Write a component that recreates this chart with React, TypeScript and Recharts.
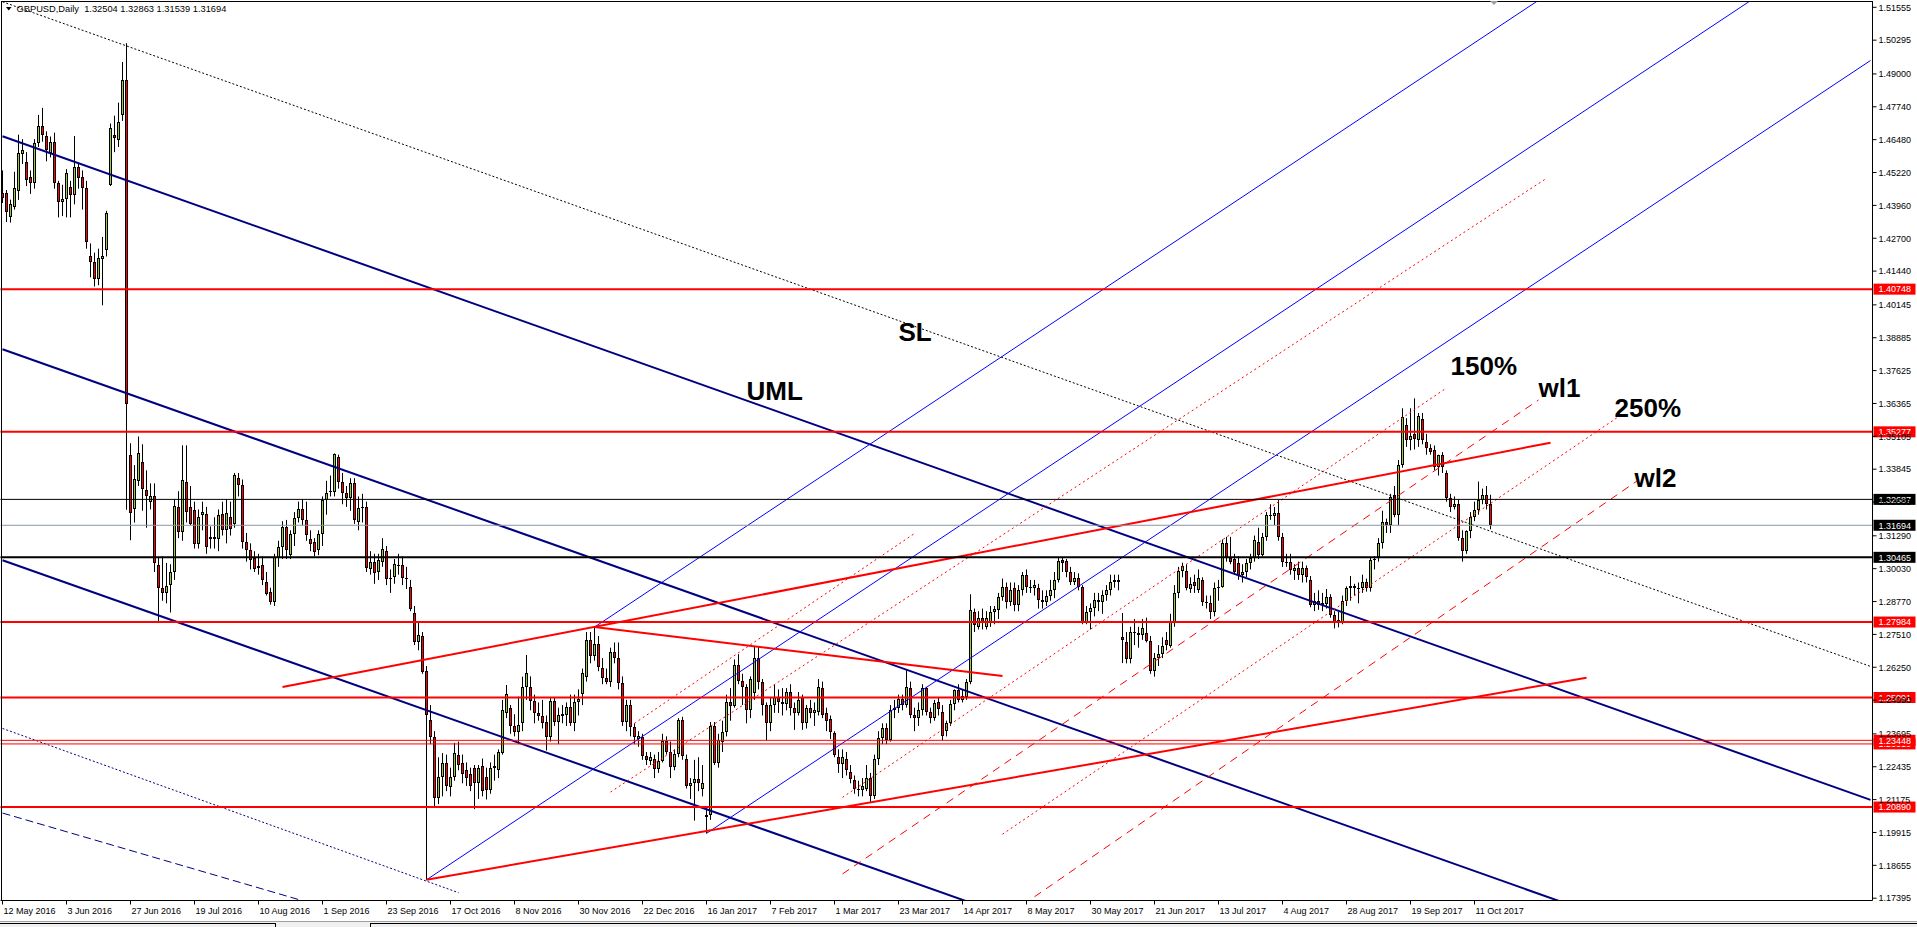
import React from "react";
import { ComposedChart, Bar, XAxis, YAxis, ReferenceLine } from "recharts";

// open, high, low, close
type Candle = [number, number, number, number];
type Seg = [[number, number], [number, number]];

const may2016: Candle[] = [
  [1.4445, 1.453, 1.4405, 1.4425], [1.4443, 1.4455, 1.4332, 1.437], [1.4352, 1.4418, 1.433, 1.4402],
  [1.439, 1.4525, 1.438, 1.4462], [1.4452, 1.4667, 1.4417, 1.4596], [1.4593, 1.465, 1.4555, 1.4608],
  [1.4563, 1.46, 1.447, 1.4493], [1.4505, 1.453, 1.444, 1.4482], [1.4481, 1.465, 1.446, 1.4634],
  [1.4634, 1.4743, 1.462, 1.47], [1.47, 1.477, 1.464, 1.4666], [1.4662, 1.468, 1.4565, 1.4608],
  [1.4596, 1.466, 1.458, 1.4639], [1.4639, 1.4675, 1.446, 1.4481],
];
const jun2016: Candle[] = [
  [1.4481, 1.449, 1.435, 1.4409], [1.4408, 1.4475, 1.4355, 1.442], [1.442, 1.4535, 1.435, 1.452],
  [1.4468, 1.449, 1.435, 1.4437], [1.4437, 1.4662, 1.44, 1.4543], [1.4543, 1.456, 1.446, 1.4501],
  [1.4506, 1.453, 1.438, 1.4463], [1.4464, 1.449, 1.423, 1.4257], [1.42, 1.425, 1.412, 1.418],
  [1.418, 1.4215, 1.4085, 1.4115], [1.4115, 1.423, 1.409, 1.4195], [1.419, 1.4275, 1.4013, 1.42],
  [1.4224, 1.4375, 1.42, 1.4365], [1.4475, 1.471, 1.447, 1.4693], [1.4665, 1.474, 1.46, 1.4655],
  [1.4647, 1.479, 1.462, 1.4716], [1.4744, 1.4946, 1.472, 1.4877], [1.4877, 1.5018, 1.3229, 1.3635],
  [1.3439, 1.3484, 1.3112, 1.3218], [1.3232, 1.34, 1.318, 1.3347], [1.334, 1.351, 1.332, 1.3446],
  [1.3412, 1.348, 1.3225, 1.331],
];
const jul2016: Candle[] = [
  [1.3304, 1.338, 1.316, 1.3282], [1.326, 1.333, 1.323, 1.3282], [1.328, 1.333, 1.299, 1.3024],
  [1.3016, 1.3045, 1.28, 1.2928], [1.2928, 1.305, 1.288, 1.2909], [1.2909, 1.3025, 1.287, 1.2935],
  [1.294, 1.302, 1.2835, 1.299], [1.2991, 1.327, 1.296, 1.3245], [1.3239, 1.33, 1.312, 1.3143],
  [1.3144, 1.3476, 1.311, 1.3343], [1.3336, 1.3476, 1.318, 1.3221], [1.324, 1.332, 1.317, 1.3176],
  [1.3227, 1.326, 1.308, 1.3098], [1.3098, 1.323, 1.308, 1.3201], [1.321, 1.326, 1.315, 1.322],
  [1.3214, 1.324, 1.306, 1.3085], [1.3115, 1.3165, 1.308, 1.3125], [1.3125, 1.32, 1.308, 1.3118],
  [1.3118, 1.323, 1.307, 1.3208], [1.3214, 1.326, 1.313, 1.315], [1.315, 1.327, 1.31, 1.3217],
];
const aug2016: Candle[] = [
  [1.3201, 1.326, 1.313, 1.3157], [1.3176, 1.337, 1.316, 1.3362], [1.3349, 1.337, 1.328, 1.3324],
  [1.3324, 1.3345, 1.308, 1.3107], [1.3107, 1.314, 1.303, 1.3075], [1.3075, 1.31, 1.3, 1.3036],
  [1.3043, 1.307, 1.299, 1.3], [1.3005, 1.306, 1.298, 1.3012], [1.3016, 1.305, 1.294, 1.2959],
  [1.2952, 1.299, 1.29, 1.2907], [1.2913, 1.293, 1.2865, 1.2875], [1.2875, 1.306, 1.286, 1.3049],
  [1.3043, 1.311, 1.301, 1.3088], [1.3088, 1.3185, 1.304, 1.3164], [1.3162, 1.319, 1.304, 1.3075],
  [1.3056, 1.315, 1.304, 1.3136], [1.3136, 1.322, 1.309, 1.3196], [1.3196, 1.326, 1.318, 1.323],
  [1.323, 1.327, 1.317, 1.3189], [1.3189, 1.326, 1.311, 1.3131], [1.3118, 1.315, 1.307, 1.3098],
  [1.3105, 1.312, 1.305, 1.3067], [1.3075, 1.315, 1.3055, 1.3136],
];
const sep2016: Candle[] = [
  [1.3136, 1.328, 1.309, 1.3265], [1.3265, 1.334, 1.321, 1.3294], [1.3296, 1.336, 1.328, 1.33],
  [1.3298, 1.3445, 1.328, 1.3443], [1.3433, 1.344, 1.331, 1.3337], [1.3337, 1.337, 1.325, 1.3292],
  [1.3292, 1.332, 1.324, 1.3273], [1.3273, 1.335, 1.3225, 1.3333], [1.3333, 1.335, 1.3175, 1.3189],
  [1.3182, 1.328, 1.315, 1.3234], [1.3234, 1.329, 1.318, 1.324], [1.324, 1.326, 1.299, 1.3005],
  [1.3, 1.307, 1.298, 1.303], [1.303, 1.306, 1.2945, 1.2985], [1.2991, 1.306, 1.296, 1.3036],
  [1.303, 1.312, 1.301, 1.3078], [1.3072, 1.309, 1.294, 1.2962], [1.2962, 1.3, 1.291, 1.2968],
  [1.2972, 1.304, 1.2945, 1.302], [1.3012, 1.306, 1.298, 1.3017], [1.3017, 1.305, 1.294, 1.2967],
  [1.2967, 1.301, 1.2925, 1.2965],
];
const oct2016: Candle[] = [
  [1.2932, 1.296, 1.284, 1.2847], [1.2834, 1.286, 1.271, 1.2723], [1.2723, 1.28, 1.269, 1.2749],
  [1.2745, 1.276, 1.26, 1.2607], [1.261, 1.263, 1.181, 1.2442], [1.2423, 1.248, 1.233, 1.2358],
  [1.2358, 1.238, 1.2089, 1.2123], [1.2123, 1.228, 1.21, 1.2205], [1.2205, 1.2296, 1.213, 1.2256],
  [1.2256, 1.229, 1.215, 1.217], [1.2166, 1.224, 1.213, 1.2204], [1.2204, 1.2335, 1.219, 1.2296],
  [1.229, 1.234, 1.223, 1.225], [1.2256, 1.229, 1.218, 1.2217], [1.223, 1.226, 1.217, 1.22],
  [1.2215, 1.224, 1.215, 1.217], [1.2237, 1.225, 1.2081, 1.218], [1.218, 1.225, 1.212, 1.2237],
  [1.2245, 1.2275, 1.213, 1.215], [1.2205, 1.224, 1.2118, 1.2154], [1.2154, 1.226, 1.214, 1.2237],
];
const nov2016: Candle[] = [
  [1.2237, 1.229, 1.219, 1.2245], [1.2231, 1.231, 1.22, 1.2301], [1.2296, 1.25, 1.229, 1.2462],
  [1.245, 1.2557, 1.243, 1.2521], [1.247, 1.248, 1.237, 1.24], [1.24, 1.2445, 1.236, 1.2375],
  [1.2375, 1.2512, 1.233, 1.2405], [1.241, 1.2589, 1.238, 1.2551], [1.2551, 1.2672, 1.25, 1.2604],
  [1.2551, 1.259, 1.246, 1.2494], [1.2494, 1.252, 1.241, 1.245], [1.245, 1.249, 1.242, 1.244],
  [1.244, 1.25, 1.239, 1.241], [1.2415, 1.244, 1.2306, 1.2357], [1.2357, 1.251, 1.234, 1.2494],
  [1.2494, 1.251, 1.24, 1.2415], [1.2416, 1.247, 1.233, 1.2442], [1.244, 1.248, 1.241, 1.2447],
  [1.2442, 1.249, 1.24, 1.2474], [1.2474, 1.252, 1.24, 1.241], [1.241, 1.252, 1.238, 1.2493],
  [1.2493, 1.254, 1.244, 1.2505],
];
const dec2016: Candle[] = [
  [1.2523, 1.262, 1.248, 1.2602], [1.2589, 1.276, 1.257, 1.273], [1.273, 1.276, 1.264, 1.267],
  [1.267, 1.2779, 1.265, 1.2715], [1.2715, 1.2745, 1.261, 1.2627], [1.2621, 1.266, 1.256, 1.2583],
  [1.2583, 1.262, 1.256, 1.257], [1.257, 1.27, 1.255, 1.2685], [1.2685, 1.272, 1.264, 1.266],
  [1.266, 1.272, 1.254, 1.2563], [1.2563, 1.259, 1.24, 1.2416], [1.2416, 1.25, 1.238, 1.248],
  [1.248, 1.25, 1.236, 1.2395], [1.2395, 1.241, 1.233, 1.2357], [1.235, 1.238, 1.232, 1.236],
  [1.2357, 1.237, 1.227, 1.2286], [1.2286, 1.23, 1.225, 1.227], [1.2265, 1.23, 1.225, 1.228],
  [1.2273, 1.229, 1.22, 1.2235], [1.2235, 1.23, 1.222, 1.2267], [1.2267, 1.237, 1.226, 1.2344],
];
const jan2017: Candle[] = [
  [1.2344, 1.236, 1.229, 1.23], [1.23, 1.234, 1.22, 1.2241], [1.2241, 1.231, 1.223, 1.2292],
  [1.2292, 1.243, 1.228, 1.2421], [1.2421, 1.2435, 1.227, 1.2286], [1.2273, 1.229, 1.216, 1.217],
  [1.217, 1.22, 1.212, 1.218], [1.218, 1.227, 1.2037, 1.2195], [1.2195, 1.228, 1.215, 1.218],
  [1.216, 1.225, 1.213, 1.218], [1.205, 1.209, 1.1988, 1.206], [1.206, 1.2415, 1.204, 1.24],
  [1.24, 1.2415, 1.225, 1.2257], [1.2257, 1.237, 1.224, 1.2346], [1.234, 1.242, 1.23, 1.2375],
  [1.2375, 1.252, 1.236, 1.249], [1.249, 1.2545, 1.242, 1.2475], [1.2475, 1.2655, 1.247, 1.2634],
  [1.2634, 1.2675, 1.256, 1.2573], [1.2573, 1.26, 1.248, 1.255], [1.255, 1.256, 1.241, 1.246],
  [1.246, 1.259, 1.243, 1.258],
];
const feb2017: Candle[] = [
  [1.2526, 1.2704, 1.25, 1.2661], [1.2661, 1.2706, 1.254, 1.257], [1.257, 1.258, 1.244, 1.248],
  [1.248, 1.249, 1.2345, 1.241], [1.241, 1.251, 1.238, 1.248], [1.248, 1.256, 1.245, 1.251],
  [1.251, 1.254, 1.245, 1.249], [1.249, 1.2545, 1.244, 1.2485], [1.2485, 1.2545, 1.246, 1.253],
  [1.253, 1.256, 1.244, 1.247], [1.247, 1.249, 1.2385, 1.245], [1.245, 1.253, 1.244, 1.25],
  [1.2512, 1.252, 1.2385, 1.241], [1.241, 1.248, 1.239, 1.247], [1.247, 1.25, 1.243, 1.245],
  [1.245, 1.249, 1.24, 1.246], [1.2455, 1.258, 1.244, 1.255], [1.2544, 1.257, 1.243, 1.2442],
  [1.245, 1.247, 1.238, 1.242], [1.2428, 1.244, 1.235, 1.2377],
];
const mar2017: Candle[] = [
  [1.2371, 1.238, 1.228, 1.2287], [1.228, 1.231, 1.222, 1.2255], [1.2255, 1.231, 1.22, 1.228],
  [1.2275, 1.23, 1.221, 1.223], [1.2223, 1.225, 1.218, 1.2198], [1.2191, 1.221, 1.214, 1.2159],
  [1.216, 1.219, 1.213, 1.2155], [1.2155, 1.22, 1.213, 1.217], [1.216, 1.225, 1.215, 1.22],
  [1.22, 1.222, 1.2109, 1.213], [1.213, 1.229, 1.212, 1.2275], [1.2275, 1.238, 1.225, 1.2352],
  [1.2352, 1.241, 1.233, 1.2391], [1.2391, 1.241, 1.233, 1.2346], [1.2346, 1.248, 1.234, 1.2461],
  [1.2461, 1.25, 1.243, 1.2467], [1.2467, 1.252, 1.245, 1.2505], [1.2505, 1.252, 1.246, 1.248],
  [1.248, 1.2615, 1.247, 1.255], [1.2544, 1.257, 1.243, 1.2442], [1.2442, 1.247, 1.238, 1.243],
  [1.243, 1.249, 1.24, 1.2461], [1.2461, 1.256, 1.244, 1.2544],
];
const apr2017: Candle[] = [
  [1.2544, 1.255, 1.244, 1.2455], [1.2455, 1.247, 1.241, 1.243], [1.243, 1.25, 1.242, 1.2488],
  [1.249, 1.251, 1.244, 1.2465], [1.2454, 1.248, 1.2345, 1.236], [1.238, 1.242, 1.236, 1.241],
  [1.241, 1.25, 1.24, 1.2486], [1.2486, 1.254, 1.246, 1.2537], [1.2537, 1.256, 1.249, 1.25],
  [1.25, 1.254, 1.249, 1.2515], [1.2512, 1.258, 1.25, 1.257], [1.257, 1.2905, 1.256, 1.2845],
  [1.2838, 1.285, 1.276, 1.2787], [1.2781, 1.284, 1.277, 1.2813], [1.2813, 1.285, 1.277, 1.28],
  [1.278, 1.284, 1.277, 1.2812], [1.28, 1.286, 1.278, 1.2838], [1.2838, 1.286, 1.279, 1.285],
  [1.2845, 1.291, 1.281, 1.2896], [1.2896, 1.2965, 1.288, 1.2934],
];
const may2017: Candle[] = [
  [1.2934, 1.295, 1.285, 1.2877], [1.2877, 1.295, 1.286, 1.292], [1.2928, 1.295, 1.284, 1.2864],
  [1.2864, 1.294, 1.284, 1.2922], [1.2922, 1.299, 1.29, 1.2979], [1.2979, 1.3, 1.291, 1.2934],
  [1.2934, 1.296, 1.291, 1.293], [1.293, 1.296, 1.29, 1.294], [1.2928, 1.2945, 1.285, 1.2883],
  [1.2883, 1.292, 1.285, 1.2877], [1.2877, 1.292, 1.286, 1.29], [1.29, 1.296, 1.288, 1.2922],
  [1.2922, 1.299, 1.289, 1.2961], [1.2961, 1.3047, 1.295, 1.3031], [1.3035, 1.3048, 1.299, 1.3025],
  [1.3031, 1.304, 1.297, 1.2992], [1.2992, 1.301, 1.294, 1.2953], [1.2953, 1.299, 1.294, 1.2966],
  [1.2966, 1.2985, 1.292, 1.2934], [1.2934, 1.294, 1.279, 1.28], [1.28, 1.286, 1.279, 1.2838],
  [1.2838, 1.287, 1.277, 1.2851], [1.2851, 1.291, 1.282, 1.2883],
];
const jun2017: Candle[] = [
  [1.2883, 1.291, 1.284, 1.2875], [1.2877, 1.292, 1.283, 1.2902], [1.2902, 1.294, 1.288, 1.292],
  [1.2922, 1.298, 1.29, 1.2953], [1.2953, 1.298, 1.293, 1.296], [1.296, 1.298, 1.292, 1.295],
  [1.2742, 1.2833, 1.2641, 1.273], [1.2722, 1.276, 1.264, 1.2655], [1.2655, 1.278, 1.264, 1.2762],
  [1.2762, 1.281, 1.271, 1.2755], [1.2755, 1.278, 1.27, 1.275], [1.275, 1.281, 1.273, 1.2775],
  [1.2757, 1.2815, 1.272, 1.2725], [1.2725, 1.2745, 1.26, 1.261], [1.261, 1.268, 1.2589, 1.2661],
  [1.2661, 1.271, 1.263, 1.2674], [1.2674, 1.274, 1.266, 1.2706], [1.273, 1.276, 1.269, 1.271],
  [1.2706, 1.283, 1.27, 1.2802], [1.2796, 1.294, 1.278, 1.2911], [1.2911, 1.301, 1.289, 1.2994],
  [1.2994, 1.3026, 1.297, 1.3013],
];
const jul2017: Candle[] = [
  [1.2994, 1.302, 1.292, 1.293], [1.2925, 1.297, 1.291, 1.2945], [1.295, 1.298, 1.291, 1.2935],
  [1.2922, 1.3, 1.291, 1.2966], [1.296, 1.297, 1.286, 1.2877], [1.2877, 1.29, 1.285, 1.287],
  [1.287, 1.29, 1.281, 1.2838], [1.2838, 1.295, 1.282, 1.2928], [1.2928, 1.296, 1.288, 1.2934],
  [1.2934, 1.3115, 1.293, 1.31], [1.31, 1.3125, 1.303, 1.3043], [1.3043, 1.3125, 1.302, 1.303],
  [1.304, 1.306, 1.298, 1.2992], [1.3023, 1.305, 1.296, 1.2978], [1.2978, 1.302, 1.295, 1.299],
  [1.299, 1.304, 1.297, 1.3023], [1.3023, 1.306, 1.3, 1.3043], [1.3043, 1.313, 1.303, 1.3114],
  [1.3107, 1.316, 1.304, 1.3056], [1.3056, 1.314, 1.305, 1.3126], [1.3126, 1.322, 1.311, 1.3209],
];
const aug2017: Candle[] = [
  [1.3209, 1.325, 1.319, 1.3205], [1.3205, 1.324, 1.317, 1.3215], [1.3215, 1.3266, 1.311, 1.3126],
  [1.3126, 1.314, 1.301, 1.303], [1.303, 1.306, 1.301, 1.3024], [1.303, 1.306, 1.298, 1.2998],
  [1.2995, 1.302, 1.296, 1.3005], [1.3005, 1.303, 1.296, 1.298], [1.298, 1.303, 1.295, 1.3005],
  [1.3005, 1.3015, 1.295, 1.2972], [1.2959, 1.2975, 1.2855, 1.2864], [1.2864, 1.291, 1.284, 1.288],
  [1.288, 1.292, 1.2845, 1.2862], [1.2862, 1.291, 1.284, 1.287], [1.2868, 1.2925, 1.285, 1.2896],
  [1.2896, 1.2905, 1.2815, 1.2825], [1.2825, 1.284, 1.2774, 1.2795], [1.2795, 1.284, 1.2778, 1.2805],
  [1.28, 1.29, 1.279, 1.2878], [1.2878, 1.2935, 1.286, 1.2929], [1.2929, 1.2975, 1.288, 1.2935],
  [1.2935, 1.2945, 1.29, 1.293], [1.2925, 1.295, 1.287, 1.293],
];
const sep2017: Candle[] = [
  [1.293, 1.298, 1.291, 1.2953], [1.2953, 1.2965, 1.2915, 1.2928], [1.2928, 1.3045, 1.2915, 1.3036],
  [1.3036, 1.305, 1.3, 1.3042], [1.3049, 1.312, 1.303, 1.31], [1.31, 1.3225, 1.308, 1.3183],
  [1.3183, 1.3195, 1.314, 1.317], [1.317, 1.329, 1.314, 1.3279], [1.3285, 1.332, 1.32, 1.3208],
  [1.3208, 1.342, 1.317, 1.34], [1.34, 1.3618, 1.339, 1.3585], [1.3554, 1.358, 1.347, 1.3496],
  [1.3496, 1.3618, 1.3457, 1.351], [1.352, 1.3656, 1.346, 1.35], [1.3498, 1.36, 1.347, 1.3588],
  [1.3577, 1.36, 1.348, 1.3496], [1.349, 1.352, 1.344, 1.3465], [1.3465, 1.348, 1.344, 1.3452],
  [1.3457, 1.3475, 1.338, 1.3393], [1.3393, 1.344, 1.336, 1.3438], [1.3438, 1.345, 1.337, 1.3393],
];
const oct2017: Candle[] = [
  [1.3369, 1.338, 1.326, 1.3273], [1.3273, 1.329, 1.322, 1.3241], [1.3241, 1.328, 1.323, 1.3252],
  [1.3252, 1.327, 1.311, 1.312], [1.312, 1.315, 1.303, 1.3069], [1.3069, 1.315, 1.306, 1.3146],
  [1.3146, 1.322, 1.312, 1.3203], [1.3203, 1.326, 1.3185, 1.3228], [1.3228, 1.3337, 1.321, 1.3266],
  [1.3266, 1.331, 1.325, 1.3285], [1.3285, 1.332, 1.323, 1.325], [1.32504, 1.32863, 1.31539, 1.31694],
];

const candles: Candle[] = [
  ...may2016, ...jun2016, ...jul2016, ...aug2016, ...sep2016, ...oct2016, ...nov2016, ...dec2016,
  ...jan2017, ...feb2017, ...mar2017, ...apr2017, ...may2017, ...jun2017, ...jul2017, ...aug2017,
  ...sep2017, ...oct2017,
];

// bar slots incl. the empty chart shift on the right
const SLOTS = 468;

const dateTicks = [0, 16, 32, 48, 64, 80, 96, 112, 128, 144, 160, 176, 192, 208, 224, 240, 256, 272, 288, 304, 320, 336, 352, 368];
const dateLabels = [
  "12 May 2016", "3 Jun 2016", "27 Jun 2016", "19 Jul 2016", "10 Aug 2016", "1 Sep 2016",
  "23 Sep 2016", "17 Oct 2016", "8 Nov 2016", "30 Nov 2016", "22 Dec 2016", "16 Jan 2017",
  "7 Feb 2017", "1 Mar 2017", "23 Mar 2017", "14 Apr 2017", "8 May 2017", "30 May 2017",
  "21 Jun 2017", "13 Jul 2017", "4 Aug 2017", "28 Aug 2017", "19 Sep 2017", "11 Oct 2017",
];
const priceTicks = [
  1.51555, 1.50295, 1.49, 1.4774, 1.4648, 1.4522, 1.4396, 1.427, 1.4144, 1.40145, 1.38885, 1.37625,
  1.36365, 1.35105, 1.33845, 1.32585, 1.3129, 1.3003, 1.2877, 1.2751, 1.2625, 1.2499, 1.23695,
  1.22435, 1.21175, 1.19915, 1.18655, 1.17395,
];

const redLevels = [1.40748, 1.35277, 1.27984, 1.25091, 1.2089];
const thinRedLevels = [1.2331, 1.23448];
const blackLevel = 1.32687;
const boldBlackLevel = 1.30465;
const bidLevel = 1.31694;

// trend lines as [bar index, price] anchors
const slLine: Seg = [[0, 1.51766], [467, 1.26283]];
const navyChannel: Seg[] = [
  [[0, 1.46613], [467, 1.21164]],
  [[0, 1.38445], [400, 1.16697]],
  [[0, 1.30355], [250, 1.16789]],
];
const navyDotted: Seg = [[0, 1.23905], [114, 1.17606]];
const navyDashed: Seg = [[0, 1.2066], [75, 1.17299]];
const pitchfork: Seg[] = [
  [[148, 1.2779], [390, 1.52435]],
  [[106, 1.181], [445, 1.52624]],
  [[176, 1.1988], [467, 1.49515]],
];
const redTrends: Seg[] = [
  [[106, 1.181], [396, 1.2585]],
  [[70, 1.25493], [387, 1.3486]],
  [[148, 1.2779], [250, 1.25915]],
];
const dottedWarnings: Seg[] = [
  [[152, 1.21466], [386, 1.44998]],
  [[158, 1.241], [228, 1.3138]],
  [[210, 1.2126], [361, 1.3696]],
  [[250, 1.1985], [404, 1.35857]],
];
const dashedWarnings: Seg[] = [
  [[210, 1.18325], [384, 1.36497]],
  [[258, 1.1745], [409, 1.3343]],
];
const notes = [
  { text: "SL", i: 224, price: 1.38775 },
  { text: "UML", i: 186, price: 1.36497 },
  { text: "150%", i: 362, price: 1.37456 },
  { text: "wl1", i: 384, price: 1.36624 },
  { text: "250%", i: 403, price: 1.35834 },
  { text: "wl2", i: 408, price: 1.33173 },
];

const rows = Array.from({ length: SLOTS }, (_, i) => {
  const k = candles[i];
  return k ? { i, o: k[0], h: k[1], l: k[2], c: k[3], range: [k[2], k[1]] } : { i };
});

const FONT = "'Liberation Sans', Arial, sans-serif";
const Y_MIN = 1.173065;
const Y_MAX = 1.517774;
const PLOT = { left: 0.5, top: 1.5, band: 4, height: 899 };

// text objects sit on the same time/price grid as the chart
const noteX = (i: number) => PLOT.left + PLOT.band * i + PLOT.band / 2;
const noteY = (p: number) => PLOT.top + ((Y_MAX - p) / (Y_MAX - Y_MIN)) * PLOT.height;

const renderCandle = (props: any) => {
  const { x, y, width, height, payload } = props;
  if (!payload || payload.o == null) return <g />;
  const { o, h, l, c } = payload;
  const top = Math.min(y, y + height);
  const span = Math.abs(height);
  const k = h === l ? 0 : span / (h - l);
  const cx = Math.floor(x + width / 2) + 0.5;
  const yO = top + (h - o) * k;
  const yC = top + (h - c) * k;
  const bTop = Math.round(Math.min(yO, yC));
  const bBot = Math.max(Math.round(Math.max(yO, yC)), bTop + 1);
  const up = c >= o;
  return (
    <g>
      <line x1={cx} x2={cx} y1={top} y2={top + span} stroke="#000" strokeWidth={1} />
      <rect x={cx - 1.5} y={bTop} width={3} height={bBot - bTop} fill="#000" />
      {bBot - bTop > 2 && (
        <rect x={cx - 0.5} y={bTop + 1} width={1} height={bBot - bTop - 2} fill={up ? "#9acd32" : "#ff0000"} />
      )}
    </g>
  );
};

const renderDateTick = (p: any) => {
  const idx = dateTicks.indexOf(Number(p.payload.value));
  return (
    <text x={p.x + 1} y={p.y + 7.5} fontSize={9} fontFamily={FONT} fill="#000" textAnchor="start">
      {dateLabels[idx]}
    </text>
  );
};

const renderPriceTick = (p: any) => (
  <text x={p.x} y={p.y + 3.3} fontSize={9} fontFamily={FONT} fill="#000" textAnchor="start">
    {Number(p.payload.value).toFixed(5)}
  </text>
);

const priceTag = (value: number, bg: string) => (props: any) => {
  const vb = props.viewBox;
  if (!vb) return null;
  const x = vb.x + vb.width + 1;
  return (
    <g>
      <rect x={x} y={vb.y - 5.5} width={42} height={11} fill={bg} />
      <text x={x + 5} y={vb.y + 3.3} fontSize={9} fontFamily={FONT} fill="#fff">
        {value.toFixed(5)}
      </text>
    </g>
  );
};

const segLine = (s: Seg, key: string, stroke: string, width: number, dash?: string) => (
  <ReferenceLine
    key={key}
    segment={[{ x: s[0][0], y: s[0][1] }, { x: s[1][0], y: s[1][1] }]}
    stroke={stroke}
    strokeWidth={width}
    strokeDasharray={dash}
    ifOverflow="hidden"
  />
);

export default function App() {
  return (
    <div style={{ position: "absolute", left: 0, top: 0, width: 1917, height: 927, background: "#fff", overflow: "hidden" }}>
      <ComposedChart
        width={1917}
        height={927}
        data={rows}
        margin={{ top: 1.5, right: 0, bottom: 0, left: 0.5 }}
        barCategoryGap={0}
        barGap={0}
      >
        <XAxis
          dataKey="i"
          type="category"
          ticks={dateTicks}
          interval={0}
          height={26.5}
          tickSize={4}
          tickMargin={2}
          axisLine={{ stroke: "#000" }}
          tickLine={{ stroke: "#000" }}
          tick={renderDateTick}
        />
        <YAxis
          orientation="right"
          type="number"
          domain={[Y_MIN, Y_MAX]}
          allowDataOverflow
          ticks={priceTicks}
          interval={0}
          width={44.5}
          tickSize={4}
          tickMargin={2}
          axisLine={{ stroke: "#000" }}
          tickLine={{ stroke: "#000" }}
          tick={renderPriceTick}
        />
        <Bar dataKey="range" shape={renderCandle} isAnimationActive={false} />

        {segLine(slLine, "sl", "#000", 1, "2 2")}
        {navyChannel.map((s, n) => segLine(s, `navy${n}`, "#000080", 2))}
        {segLine(navyDotted, "navyDot", "#000080", 1, "2 2")}
        {segLine(navyDashed, "navyDash", "#000080", 1, "8 4")}
        {pitchfork.map((s, n) => segLine(s, `pf${n}`, "#0000ff", 1))}
        {dottedWarnings.map((s, n) => segLine(s, `wd${n}`, "#ff0000", 1, "2 3"))}
        {dashedWarnings.map((s, n) => segLine(s, `wl${n}`, "#ff0000", 1, "8 6"))}
        {redTrends.map((s, n) => segLine(s, `rt${n}`, "#ff0000", 2))}

        {redLevels.map((p) => (
          <ReferenceLine key={`r${p}`} y={p} stroke="#ff0000" strokeWidth={2} ifOverflow="visible" label={priceTag(p, "#ff0000")} />
        ))}
        {thinRedLevels.map((p) => (
          <ReferenceLine key={`t${p}`} y={p} stroke="#ff0000" strokeWidth={1} ifOverflow="visible" label={priceTag(p, "#ff0000")} />
        ))}
        <ReferenceLine y={blackLevel} stroke="#000" strokeWidth={1} ifOverflow="visible" label={priceTag(blackLevel, "#000")} />
        <ReferenceLine y={bidLevel} stroke="#8a96a3" strokeWidth={1} ifOverflow="visible" label={priceTag(bidLevel, "#000")} />
        <ReferenceLine y={boldBlackLevel} stroke="#000" strokeWidth={2} ifOverflow="visible" label={priceTag(boldBlackLevel, "#000")} />
      </ComposedChart>

      {/* window frame, header, text objects and tab strip */}
      <div style={{ position: "absolute", left: 1, top: 1, width: 1871, height: 899, borderLeft: "1px solid #000", borderTop: "1px solid #000", pointerEvents: "none" }} />
      <svg style={{ position: "absolute", left: 0, top: 0 }} width={1917} height={927}>
        <polygon points="6,7 11.5,7 8.75,10.5" fill="#000" />
        <polygon points="1490,1 1498,1 1494,5" fill="#a0a0a0" />
        <text x={16.5} y={12} fontSize={9.3} fontFamily={FONT} fill="#000" style={{ whiteSpace: "pre" }}>
          GBPUSD,Daily  1.32504 1.32863 1.31539 1.31694
        </text>
        {notes.map((n) => (
          <text key={n.text} x={noteX(n.i)} y={noteY(n.price)} fontSize={26} fontWeight="bold" fontFamily={FONT} fill="#000">
            {n.text}
          </text>
        ))}
      </svg>
      <div style={{ position: "absolute", left: 0, top: 921, width: 1917, height: 6, background: "#f0f0f0", borderTop: "1px solid #a0a0a0" }} />
      <div style={{ position: "absolute", left: 0, top: 923, width: 275, height: 4, borderTop: "1px solid #000", borderRight: "1px solid #000" }} />
      <div style={{ position: "absolute", left: 370, top: 923, width: 1547, height: 4, borderTop: "1px solid #000", borderLeft: "1px solid #000" }} />
    </div>
  );
}
